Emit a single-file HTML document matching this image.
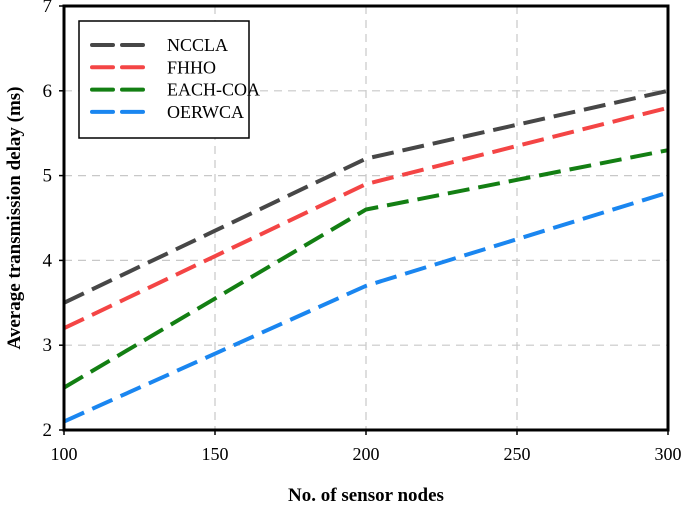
<!DOCTYPE html>
<html><head><meta charset="utf-8"><style>
html,body{margin:0;padding:0;background:#fff;}
svg{display:block;font-family:"Liberation Serif",serif;}
</style></head><body>
<svg id="chart" width="685" height="506"></svg>
<script>
const categories=[100,150,200,250,300];
const yTicks=[2,3,4,5,6,7];
const seriesNames=["NCCLA","FHHO","EACH-COA","OERWCA"];
const nccla=[3.5,4.35,5.2,5.6,6.0];
const fhho=[3.2,4.05,4.9,5.35,5.8];
const eachCoa=[2.5,3.55,4.6,4.95,5.3];
const oerwca=[2.1,2.9,3.7,4.25,4.8];
const colors=["#474747","#f44545","#137f13","#1a86f0"];
const allSeries=[nccla,fhho,eachCoa,oerwca];
const NS="http://www.w3.org/2000/svg";
const svg=document.getElementById('chart');
const L=64,R=668,T=6,B=430;
const xs=v=>L+(v-100)/200*(R-L);
const ys=v=>B-(v-2)/5*(B-T);
function mk(tag,attrs,parent){const e=document.createElementNS(NS,tag);for(const k in attrs)e.setAttribute(k,attrs[k]);(parent||svg).appendChild(e);return e;}
categories.forEach(c=>{const g=mk('line',{x1:xs(c),x2:xs(c),y1:T,y2:B,stroke:'#c8c8c8','stroke-width':1.2,'stroke-dasharray':'8,6'});

});
yTicks.forEach(t=>{const g=mk('line',{x1:L,x2:R,y1:ys(t),y2:ys(t),stroke:'#c8c8c8','stroke-width':1.2,'stroke-dasharray':'8,6'});

});
allSeries.forEach((s,i)=>{const p=mk('polyline',{points:s.map((v,j)=>xs(categories[j])+','+ys(v)).join(' '),fill:'none',stroke:colors[i],'stroke-width':4,'stroke-dasharray':'22,9'});

});
const fr=mk('rect',{x:L,y:T,width:R-L,height:B-T,fill:'none',stroke:'#000','stroke-width':3});


categories.forEach(c=>{mk('line',{x1:xs(c),x2:xs(c),y1:B,y2:B+5,stroke:'#000','stroke-width':1.5});
const t=mk('text',{x:xs(c),y:B+30,'text-anchor':'middle','font-size':18});t.textContent=c;

});
yTicks.forEach(v=>{mk('line',{x1:L-5,x2:L,y1:ys(v),y2:ys(v),stroke:'#000','stroke-width':1.5});
const t=mk('text',{x:L-12,y:ys(v)+6,'text-anchor':'end','font-size':19});t.textContent=v;

});
const xt=mk('text',{x:(L+R)/2,y:501,'text-anchor':'middle','font-size':19,'font-weight':'bold'});xt.textContent='No. of sensor nodes';


const yt=mk('text',{x:0,y:0,'text-anchor':'middle','font-size':19,'font-weight':'bold',transform:'translate(20,'+((T+B)/2)+') rotate(-90)'});yt.textContent='Average transmission delay (ms)';


const lg=mk('g',{});


mk('rect',{x:79,y:21,width:170,height:117,fill:'#fff',stroke:'#000','stroke-width':1.5},lg);
seriesNames.forEach((n,i)=>{const y=45+i*22.3;
const e=mk('g',{},lg);


mk('line',{x1:92,x2:143,y1:y,y2:y,stroke:colors[i],'stroke-width':4,'stroke-linecap':'round','stroke-dasharray':'21,9'},e);
const t=mk('text',{x:167,y:y+6,'font-size':18},e);t.textContent=n;});
</script>
</body></html>
